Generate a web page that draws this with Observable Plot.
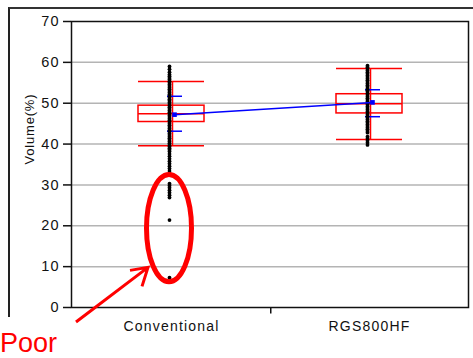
<!DOCTYPE html>
<html><head><meta charset="utf-8">
<script src="https://cdn.jsdelivr.net/npm/d3@7"></script>
<script src="https://cdn.jsdelivr.net/npm/@observablehq/plot@0.6"></script>
<style>
body{margin:0;background:#fff;}
#wrap{position:relative;width:473px;height:358px;overflow:hidden;}
#outer{position:absolute;left:8px;top:7px;width:480px;height:308px;border-top:2px solid #333;border-left:2px solid #222;}
#chart{position:absolute;left:0;top:0;}
#chart svg [aria-label="y-axis tick label"] text{letter-spacing:1px;}
#chart svg [aria-label="x-axis tick label"] text{letter-spacing:1.2px;}
#chart svg [aria-label="text"] text{letter-spacing:0.8px;}
</style></head><body><div id="wrap"><div id="outer"></div><div id="chart"></div></div>
<script>
const categories = ["Conventional", "RGS800HF"];
const yTicks = [0, 10, 20, 30, 40, 50, 60, 70];
const gridLines = [10, 20, 30, 40, 50, 60];
const yLabel = "Volume(%)";
const whiskerLow = [39.6, 41.1];
const whiskerHigh = [55.3, 58.5];
const q1 = [45.4, 47.5];
const q3 = [49.4, 52.2];
const median = [47.4, 49.85];
const mean = [47.2, 50.2];
const sdLow = [43.15, 46.7];
const sdHigh = [51.7, 53.3];
const convValues = [59.0, 58.3, 57.6, 57.0, 56.6, 56.2, 55.8, 55.4, 55.0, 54.6, 54.2, 53.8, 53.4, 53.0, 52.6, 52.2, 51.8, 51.4, 51.0, 50.6, 50.2, 49.8, 49.4, 49.0, 48.6, 48.2, 47.8, 47.4, 47.0, 46.6, 46.2, 45.8, 45.4, 45.0, 44.6, 44.2, 43.8, 43.4, 43.0, 42.6, 42.2, 41.8, 41.4, 41.0, 40.6, 40.2, 39.8, 39.4, 39.0, 38.6, 38.2, 37.6, 37.0, 36.4, 35.8, 35.2, 34.6, 34.0, 33.4, 32.8, 30.3, 29.8, 29.3, 28.7, 28.1, 27.5, 26.9, 21.4, 7.3];
const rgsValues = [59.2, 58.8, 58.4, 58.0, 57.6, 57.2, 56.8, 56.4, 56.0, 55.6, 55.2, 54.8, 54.4, 54.0, 53.6, 53.2, 52.8, 52.4, 52.0, 51.6, 51.2, 50.8, 50.4, 50.0, 49.6, 49.2, 48.8, 48.4, 48.0, 47.6, 47.2, 46.8, 46.4, 46.0, 45.6, 45.2, 44.8, 44.4, 44.0, 43.6, 43.2, 42.8, 41.8, 41.3, 40.8, 40.3, 39.8];

const stats = categories.map((cat, i) => ({
  cat, whiskerLow: whiskerLow[i], whiskerHigh: whiskerHigh[i], q1: q1[i], q3: q3[i],
  median: median[i], mean: mean[i], sdLow: sdLow[i], sdHigh: sdHigh[i]
}));
const points = [
  ...convValues.map(v => ({cat: categories[0], v})),
  ...rgsValues.map(v => ({cat: categories[1], v}))
];

const red = "#ff0000", blue = "#0000ff";
const boxInset = {insetLeft: 66, insetRight: 66};
const sdInset = {insetLeft: 95, insetRight: 88};

const chart = Plot.plot({
  width: 473, height: 358,
  marginLeft: 71, marginRight: 5, marginTop: 21, marginBottom: 51,
  x: {domain: categories, padding: 0, label: null},
  y: {domain: [0, 70], label: null},
  style: {background: "transparent", fontFamily: "'Liberation Sans', Arial, sans-serif", color: "#111"},
  marks: [
    Plot.ruleY(gridLines, {stroke: "#b4b4b4", strokeWidth: 1.5}),
    Plot.barY(stats, {x: "cat", y1: "q1", y2: "q3", fill: "none", stroke: red, strokeWidth: 1.5, ...boxInset}),
    Plot.tickY(stats, {x: "cat", y: "median", stroke: red, strokeWidth: 1.5, ...boxInset}),
    Plot.tickY(stats, {x: "cat", y: "whiskerLow", stroke: red, strokeWidth: 1.5, ...boxInset}),
    Plot.tickY(stats, {x: "cat", y: "whiskerHigh", stroke: red, strokeWidth: 1.5, ...boxInset}),
    Plot.ruleX(stats, {x: "cat", y1: "whiskerLow", y2: "whiskerHigh", stroke: red, strokeWidth: 1.5, dx: 1}),
    Plot.tickY(stats, {x: "cat", y: "sdLow", stroke: blue, strokeWidth: 1.5, ...sdInset}),
    Plot.tickY(stats, {x: "cat", y: "sdHigh", stroke: blue, strokeWidth: 1.5, ...sdInset}),
    Plot.dot(points, {x: "cat", y: "v", r: 1.9, fill: "black", dx: -2}),
    Plot.line(stats, {x: "cat", y: "mean", stroke: blue, strokeWidth: 1.5, dx: 3}),
    Plot.dot(stats, {x: "cat", y: "mean", symbol: "square", r: 2.6, fill: blue, dx: 3}),
    Plot.frame({stroke: "#111", strokeWidth: 1.5}),
    Plot.axisY({ticks: yTicks, tickSize: 8, tickPadding: 4, fontSize: 14.5, strokeWidth: 1.5, label: null}),
    Plot.axisX({tickSize: 0, tickPadding: 14, fontSize: 14, label: null}),
    Plot.text([yLabel], {frameAnchor: "left", rotate: -90, dx: -42, fontSize: 13, fill: "#111"}),
    Plot.ruleX([categories[0]], {x: d => d, dx: 99.25, y1: 0, y2: -1.6, stroke: "#111", strokeWidth: 1.5})
  ]
});
document.getElementById("chart").appendChild(chart);

// annotation: red ellipse around the poor outliers, arrow and "Poor" label
const xs = chart.scale("x"), ys = chart.scale("y");
const svg = d3.select(chart);
const cx = xs.apply(categories[0]) + xs.bandwidth / 2 - 2;
const yTop = ys.apply(32.4), yBot = ys.apply(6.2);
svg.append("ellipse")
  .attr("cx", cx).attr("cy", (yTop + yBot) / 2)
  .attr("rx", 22.5).attr("ry", (yBot - yTop) / 2)
  .attr("fill", "none").attr("stroke", red).attr("stroke-width", 5);
const tip = [cx - 21, ys.apply(9.7)];
svg.append("path")
  .attr("d", `M76,322L${tip[0]},${tip[1]}M${tip[0] - 18},${tip[1] + 3}L${tip[0]},${tip[1]}L${tip[0] - 6},${tip[1] + 19}`)
  .attr("fill", "none").attr("stroke", red).attr("stroke-width", 3);
svg.append("text").attr("x", 0).attr("y", 352).attr("text-anchor", "start")
  .attr("fill", red).attr("font-size", 27).attr("font-family", "'Liberation Sans', Arial, sans-serif")
  .text("Poor");
</script></body></html>
